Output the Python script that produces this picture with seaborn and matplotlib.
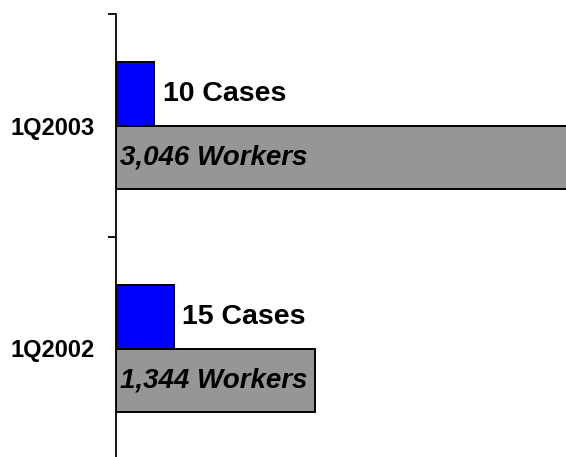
#--------------------------------------------
# Cases vs workers, first quarter 2002/2003
#--------------------------------------------

import pandas as pd
import matplotlib.pyplot as plt
import seaborn as sns

#--------------------DATA-----------------------

quarters = ['1Q2003', '1Q2002']
cases = [10, 15]
workers = [3046, 1344]

case_labels = ['%d Cases' % c for c in cases]
worker_labels = ['{:,} Workers'.format(w) for w in workers]

data = pd.DataFrame({'quarter': quarters, 'cases': cases, 'workers': workers})

#--------------------PLOT-----------------------

sns.set_style('white')
plt.rcParams['font.family'] = ['Liberation Sans', 'DejaVu Sans']
plt.rcParams['text.color'] = 'black'
plt.rcParams['ytick.color'] = 'black'
plt.rcParams['axes.labelcolor'] = 'black'

fig = plt.figure(figsize=(5.66, 4.57), dpi=100)
ax = fig.add_axes([116 / 566, -3 / 457, 450 / 566, 446 / 457])
ax2 = ax.twiny()

bar_h = 0.285

# Workers on the main axis, cases on the twin axis (different scales)
sns.barplot(data=data, y='quarter', x='workers', order=quarters, orient='h',
            width=bar_h, color='#969696', edgecolor='black', linewidth=1.4,
            saturation=1, ax=ax)
sns.barplot(data=data, y='quarter', x='cases', order=quarters, orient='h',
            width=bar_h, color='#0000ff', edgecolor='black', linewidth=1.4,
            saturation=1, ax=ax2)

# Blue bar sits above the category centre, gray bar below it
for p in ax.patches:
    p.set_y(p.get_y() + bar_h / 2)
for p in ax2.patches:
    p.set_y(p.get_y() - bar_h / 2)

ax.set_xlim(0, 3040)
ax2.set_xlim(0, 117)
ax.set_ylim(1.5, -0.5)

# Labels
ax2.bar_label(ax2.containers[0], labels=case_labels, padding=6,
              fontsize=20.5, fontweight='bold', color='black')
for i, lab in enumerate(worker_labels):
    ax.annotate(lab, xy=(0, i + bar_h / 2), xytext=(3, 0),
                textcoords='offset points', va='center', ha='left',
                fontsize=20, fontweight='bold', style='italic', color='black')

# Axes cosmetics
for a in (ax, ax2):
    a.set_xlabel('')
    a.set_ylabel('')
    a.set_xticks([])
    for s in ['top', 'right', 'bottom']:
        a.spines[s].set_visible(False)
ax2.spines['left'].set_visible(False)
ax.spines['left'].set_linewidth(1.3)
ax.spines['left'].set_color('black')

ax.set_yticks([-0.5, 0.5, 1.5], labels=['', '', ''])
ax.set_yticks([0, 1], labels=quarters, minor=True)
ax.tick_params(axis='y', which='major', left=True, length=6, width=1.3,
               direction='out', color='black')
ax.tick_params(axis='y', which='minor', left=False, length=0, pad=15.5,
               labelsize=17, labelcolor='black')
for t in ax.get_yticklabels(minor=True):
    t.set_fontweight('bold')

plt.savefig('out.png', dpi=100)
